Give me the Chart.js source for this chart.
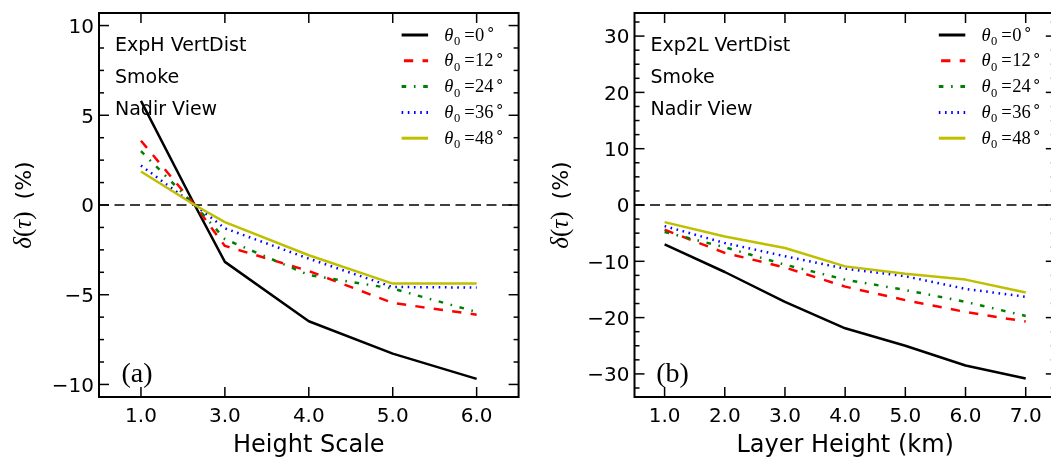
<!DOCTYPE html>
<html>
<head>
<meta charset="utf-8">
<script src="https://cdn.jsdelivr.net/npm/chart.js@4.4.1/dist/chart.umd.min.js"></script>
<style>
  html, body { margin: 0; padding: 0; background: #fff; overflow: hidden; }
  #wrap { position: relative; width: 1051px; height: 459px; overflow: hidden; }
  canvas { position: absolute; top: 0; }
  #panelA { left: 0; }
  #panelB { left: 525px; }
</style>
</head>
<body>
<div id="wrap">
  <canvas id="panelA" width="525" height="459"></canvas>
  <canvas id="panelB" width="541" height="459"></canvas>
</div>
<script>
// Solar zenith angles of the five curves
const zenithAngles = [0, 12, 24, 36, 48];

// Panel (a): exponential height-scale profile
const heightScaleLabels = ['1.0', '3.0', '4.0', '5.0', '6.0'];
const heightScaleX = [0, 0.64, 1, 2, 3, 4];
const expH_sza0  = [5.8,  0, -3.17, -6.48, -8.28, -9.69];
const expH_sza12 = [3.58, 0, -2.28, -3.68, -5.46, -6.11];
const expH_sza24 = [3.0,  0, -1.9,  -3.9,  -4.66, -5.96];
const expH_sza36 = [2.2,  0, -1.3,  -2.99, -4.57, -4.6];
const expH_sza48 = [1.87, 0, -0.95, -2.8,  -4.38, -4.38];
const yTicksA = [-10, -5, 0, 5, 10];

// Panel (b): two-layer profile vs layer height
const layerHeightKm = [1, 2, 3, 4, 5, 6, 7];
const layerHeightLabels = ['1.0', '2.0', '3.0', '4.0', '5.0', '6.0', '7.0'];
const exp2L_sza0  = [-7.0,  -11.9, -17.2, -21.9, -25.0, -28.5, -30.8];
const exp2L_sza12 = [-4.4,  -8.5,  -11.1, -14.5, -16.9, -19.0, -20.7];
const exp2L_sza24 = [-4.8,  -7.5,  -10.6, -13.25, -15.1, -17.2, -19.7];
const exp2L_sza36 = [-3.75, -6.75, -9.1,  -11.3, -12.65, -14.9, -16.3];
const exp2L_sza48 = [-3.04, -5.58, -7.64, -10.9, -12.2, -13.25, -15.55];
const yTicksB = [-30, -20, -10, 0, 10, 20, 30];

// Line styles per zenith angle
const lineColors = ['#000000', '#ff0000', '#008000', '#0000ff', '#bfbf00'];
const lineDashes = [[], [9.3, 9.3], [4.6, 7.7, 1.6, 7.7], [1.6, 4.6], []];
const LINE_W = 2.5;

const MINUS = '\u2212';
const fmt = v => (v < 0 ? MINUS + Math.abs(v) : String(v));
const SANS = '"DejaVu Sans"';
const SERIF = '"Liberation Serif"';

function seg(ctx, x1, y1, x2, y2) {
  ctx.beginPath(); ctx.moveTo(x1, y1); ctx.lineTo(x2, y2); ctx.stroke();
}

// θ0 = N° legend label in math style
function drawThetaLabel(ctx, x, yBase, deg) {
  ctx.textAlign = 'left';
  ctx.textBaseline = 'alphabetic';
  let cx = x;
  ctx.font = 'italic 18.5px ' + SERIF;
  ctx.fillText('\u03b8', cx, yBase);
  cx += ctx.measureText('\u03b8').width + 0.5;
  ctx.font = '12.5px ' + SERIF;
  ctx.fillText('0', cx, yBase + 4.5);
  cx += ctx.measureText('0').width + 4;
  ctx.font = '18.5px ' + SERIF;
  ctx.fillText('=', cx, yBase);
  cx += ctx.measureText('=').width + 0.5;
  const s = String(deg);
  ctx.fillText(s, cx, yBase);
  cx += ctx.measureText(s).width + 1.5;
  ctx.font = '15px ' + SERIF;
  ctx.fillText('\u2218', cx, yBase - 6.5);
}

const framePlugin = {
  id: 'frame',
  beforeDatasetsDraw(chart, _args, o) {
    const { ctx, chartArea: a, scales: { y } } = chart;
    const py = y.getPixelForValue(0);
    ctx.save();
    ctx.beginPath();
    ctx.rect(a.left, a.top, a.right - a.left, a.bottom - a.top);
    ctx.clip();
    ctx.strokeStyle = '#000';
    ctx.lineWidth = 1.6;
    ctx.setLineDash([10, 5.5]);
    seg(ctx, a.left, py, a.right, py);
    ctx.restore();
  },
  afterDatasetsDraw(chart, _args, o) {
    const { ctx, chartArea: a, scales: { x, y } } = chart;
    ctx.save();
    ctx.fillStyle = '#000';
    ctx.strokeStyle = '#000';
    ctx.setLineDash([]);

    // ticks pointing inward on all four sides
    ctx.lineWidth = 1.5;
    o.xTicks.forEach(v => {
      const px = x.getPixelForValue(v);
      seg(ctx, px, a.bottom, px, a.bottom - 10);
      seg(ctx, px, a.top, px, a.top + 10);
    });
    o.yTicks.forEach(v => {
      const py = y.getPixelForValue(v);
      seg(ctx, a.left, py, a.left + 10, py);
      seg(ctx, a.right, py, a.right - 10, py);
    });
    for (let v = -Math.floor(y.max / o.yMinorStep) * o.yMinorStep; v <= y.max; v += o.yMinorStep) {
      if (o.yTicks.some(t => Math.abs(t - v) < 1e-9)) continue;
      const py = y.getPixelForValue(v);
      seg(ctx, a.left, py, a.left + 5, py);
      seg(ctx, a.right, py, a.right - 5, py);
    }

    // axes frame
    ctx.lineWidth = 2;
    ctx.strokeRect(a.left, a.top, a.right - a.left, a.bottom - a.top);

    // tick labels
    ctx.font = '20px ' + SANS;
    ctx.textBaseline = 'alphabetic';
    ctx.textAlign = 'center';
    o.xTicks.forEach((v, i) => {
      ctx.fillText(o.xLabels[i], x.getPixelForValue(v), a.bottom + 25);
    });
    ctx.textAlign = 'right';
    o.yTicks.forEach(v => {
      ctx.fillText(fmt(v), a.left - 5, y.getPixelForValue(v) + 7.3);
    });

    // x axis title
    ctx.font = '24px ' + SANS;
    ctx.textAlign = 'center';
    ctx.fillText(o.xTitle, (a.left + a.right) / 2, a.bottom + 55);

    // y axis title: δ(τ) (%)
    ctx.save();
    ctx.translate(o.yTitleX, (a.top + a.bottom) / 2);
    ctx.rotate(-Math.PI / 2);
    ctx.textAlign = 'left';
    const parts = [
      { t: '\u03b4', f: 'italic 25px ' + SERIF },
      { t: '(', f: '25px ' + SERIF },
      { t: '\u03c4', f: 'italic 25px ' + SERIF },
      { t: ')', f: '25px ' + SERIF },
      { t: ' ', f: '24px ' + SANS, gap: 12 },
      { t: '(%)', f: '22px ' + SANS }
    ];
    let total = 0;
    parts.forEach(p => { ctx.font = p.f; p.w = p.gap != null ? p.gap : ctx.measureText(p.t).width; total += p.w; });
    let tx = -total / 2;
    parts.forEach(p => { ctx.font = p.f; if (p.gap == null) ctx.fillText(p.t, tx, 0); tx += p.w; });
    ctx.restore();

    // notes in upper left
    ctx.font = '19px ' + SANS;
    ctx.textAlign = 'left';
    o.notes.forEach((t, i) => ctx.fillText(t, a.left + 16, a.top + 37.7 + i * 32.2));

    // panel tag
    ctx.font = '28px ' + SERIF;
    ctx.textAlign = 'center';
    ctx.fillText(o.tag, a.left + 38, a.bottom - 15);

    // legend
    const lx0 = a.right - 117, lx1 = a.right - 90.5, tx0 = a.right - 74.3;
    chart.data.datasets.forEach((ds, i) => {
      const ry = a.top + 22 + i * 25.8;
      ctx.save();
      ctx.strokeStyle = ds.borderColor;
      ctx.lineWidth = 3;
      ctx.lineCap = 'butt';
      ctx.setLineDash(ds.borderDash || []);
      ctx.lineDashOffset = i === 1 ? -2.3 : 0;
      seg(ctx, lx0, ry, lx1, ry);
      ctx.restore();
      ctx.fillStyle = '#000';
      drawThetaLabel(ctx, tx0, ry + 5.5, zenithAngles[i]);
    });
    ctx.restore();
  }
};

function makeDatasets(xs, seriesList) {
  return seriesList.map((vals, i) => ({
    label: '\u03b80 = ' + zenithAngles[i] + '\u00b0',
    data: xs.map((xv, j) => ({ x: xv, y: vals[j] })),
    borderColor: lineColors[i],
    borderWidth: LINE_W,
    borderDash: lineDashes[i],
    borderJoinStyle: 'round',
    pointRadius: 0,
    tension: 0,
    fill: false,
    order: seriesList.length - i
  }));
}

function makeChart(id, cfg) {
  return new Chart(document.getElementById(id), {
    type: 'line',
    data: { datasets: makeDatasets(cfg.xs, cfg.series) },
    plugins: [framePlugin],
    options: {
      responsive: false,
      animation: false,
      devicePixelRatio: 1,
      layout: { padding: { left: 0, right: cfg.padRight, top: 13, bottom: 0 } },
      scales: {
        x: {
          type: 'linear', min: cfg.xMin, max: cfg.xMax,
          ticks: { display: false }, grid: { display: false }, border: { display: false },
          afterFit: s => { s.height = 62; }
        },
        y: {
          type: 'linear', min: -cfg.yLim, max: cfg.yLim,
          ticks: { display: false }, grid: { display: false }, border: { display: false },
          afterFit: s => { s.width = cfg.yAxisW; }
        }
      },
      plugins: {
        legend: { display: false },
        tooltip: { enabled: false },
        frame: {
          xTicks: cfg.xTicks, xLabels: cfg.xLabels,
          yTicks: cfg.yTicks, yMinorStep: cfg.yMinorStep,
          xTitle: cfg.xTitle, yTitleX: cfg.yTitleX,
          notes: cfg.notes, tag: cfg.tag
        }
      }
    }
  });
}

makeChart('panelA', {
  xs: heightScaleX,
  series: [expH_sza0, expH_sza12, expH_sza24, expH_sza36, expH_sza48],
  xMin: -0.5, xMax: 4.5, yLim: 10.7,
  xTicks: [0, 1, 2, 3, 4], xLabels: heightScaleLabels,
  yTicks: yTicksA, yMinorStep: 1.25,
  xTitle: 'Height Scale', yTitleX: 31,
  notes: ['ExpH VertDist', 'Smoke', 'Nadir View'], tag: '(a)',
  yAxisW: 99, padRight: 6.4
});

makeChart('panelB', {
  xs: layerHeightKm,
  series: [exp2L_sza0, exp2L_sza12, exp2L_sza24, exp2L_sza36, exp2L_sza48],
  xMin: 0.5, xMax: 7.5, yLim: 34.1,
  xTicks: layerHeightKm, xLabels: layerHeightLabels,
  yTicks: yTicksB, yMinorStep: 2.5,
  xTitle: 'Layer Height (km)', yTitleX: 43,
  notes: ['Exp2L VertDist', 'Smoke', 'Nadir View'], tag: '(b)',
  yAxisW: 109.5, padRight: 10.2
});
</script>
</body>
</html>
